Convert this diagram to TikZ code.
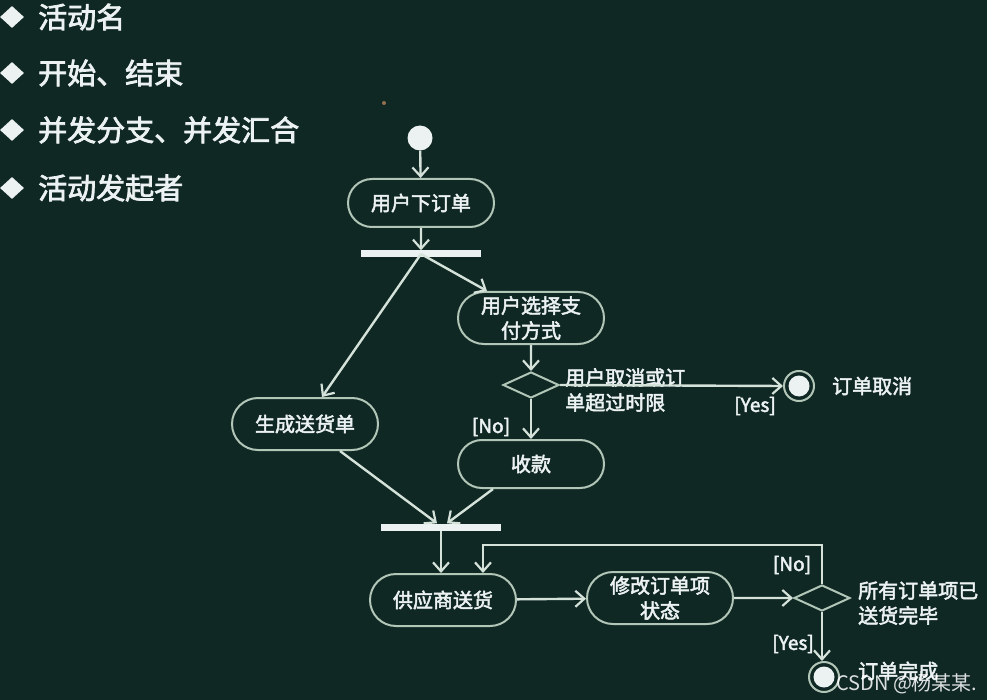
\documentclass[tikz,border=0pt]{standalone}
\usepackage{fontspec}
\usetikzlibrary{arrows.meta,shapes.misc,shapes.geometric,calc}
\newfontfamily\cjk[FakeBold=2.5]{Noto Sans CJK SC}
\newfontfamily\cjkthin{Noto Sans CJK SC}
\definecolor{bgc}{RGB}{15,40,36}
\definecolor{linec}{RGB}{212,226,218}
\definecolor{boxc}{RGB}{178,198,184}
\definecolor{txtc}{RGB}{236,242,242}
\definecolor{dotc}{RGB}{150,110,80}
\tikzset{
  arr/.style={draw=linec,line width=2.4pt,-{Straight Barb[length=9pt,width=16pt,line width=2.2pt]}},
  conn/.style={draw=linec,line width=2.4pt},
  act/.style={rounded rectangle,draw=boxc,line width=2pt,minimum width=150pt,minimum height=48pt,
    text=txtc,font=\cjk\fontsize{20}{25}\selectfont,align=center,inner sep=2pt},
  bar/.style={rectangle,fill=txtc,minimum width=120pt,minimum height=7pt,inner sep=0pt},
  dec/.style={diamond,draw=boxc,line width=2pt,minimum width=56pt,minimum height=26pt,inner sep=0pt,aspect=2},
  startc/.style={circle,fill=txtc,minimum size=25pt,inner sep=0pt},
  endc/.style={circle,draw=boxc,line width=2pt,minimum size=30pt,inner sep=0pt,
    path picture={\fill[txtc] (path picture bounding box.center) circle (10.5pt);}},
  lbl/.style={text=txtc,font=\cjk\fontsize{20}{25}\selectfont,align=left,inner sep=0pt},
  guard/.style={text=txtc,font=\cjk\fontsize{19}{22}\selectfont,inner sep=0pt},
  bul/.style={diamond,fill=txtc,minimum width=24pt,minimum height=22pt,inner sep=0pt},
  bultxt/.style={text=txtc,font=\cjk\fontsize{29}{34}\selectfont,anchor=west,inner sep=0pt}
}
\begin{document}
\begin{tikzpicture}[x=1pt,y=-1pt]
\fill[bgc] (0,0) rectangle (987,700);
\useasboundingbox (0,0) rectangle (987,700);
% bullets
\node[bul] (b1) at (12,17) {};
\node[bultxt] (t1) at (38,17) {活动名};
\node[bul] (b2) at (12,73) {};
\node[bultxt] (t2) at (38,73) {开始、结束};
\node[bul] (b3) at (12,130) {};
\node[bultxt] (t3) at (38,130) {并发分支、并发汇合};
\node[bul] (b4) at (12,188) {};
\node[bultxt] (t4) at (38,188) {活动发起者};
% stray dot
\fill[dotc] (384,103) circle (2pt);
% nodes
\node[startc] (start) at (420,138) {};
\node[act] (order) at (421,203) {用户下订单};
\node[bar] (fork) at (421,254) {};
\node[act,minimum height=52pt] (pay) at (531,318) {用户选择支\\付方式};
\node[dec] (d1) at (531,385) {};
\node[endc] (cancel) at (799,386) {};
\node[act,minimum height=52pt] (gen) at (305,424) {生成送货单};
\node[act] (recv) at (531,464) {收款};
\node[bar] (join) at (441,527) {};
\node[act,minimum height=52pt] (ship) at (443,600) {供应商送货};
\node[act,minimum height=52pt] (modify) at (660,598) {修改订单项\\状态};
\node[dec] (d2) at (822,598) {};
\node[endc] (done) at (824,677) {};
% labels
\node[lbl,anchor=west] (l1) at (565,390) {用户取消或订\\单超过时限};
\node[lbl,anchor=west] (l2) at (832,386) {订单取消};
\node[guard] (g1) at (755,406) {[Yes]};
\node[guard] (g2) at (491,427) {[No]};
\node[guard] (g3) at (792,565) {[No]};
\node[lbl,anchor=west] (l3) at (858,603) {所有订单项已\\送货完毕};
\node[guard] (g4) at (793,644) {[Yes]};
\node[lbl,anchor=west] (l4) at (858,671) {订单完成};
\node[text=white,font=\cjkthin\fontsize{20}{22}\selectfont,anchor=west,inner sep=0pt,opacity=0.85] (wm) at (836,684) {CSDN @杨某某.};
% connectors
\draw[arr] (start) -- (order);
\draw[arr] (order) -- (fork);
\draw[arr] (fork.center) -- ([xshift=-44pt]pay.north);
\draw[arr] (fork.center) -- ([xshift=17pt]gen.north);
\draw[arr] (pay) -- (d1);
\draw[arr] (d1.east) -- (cancel.west);
\draw[arr] (d1) -- (recv);
\draw[arr] ([xshift=35pt]gen.south) -- ([xshift=-4pt]join.north);
\draw[arr] ([xshift=-38pt]recv.south) -- ([xshift=6pt]join.north);
\draw[arr] (join.south) -- (join.south |- ship.north);
\draw[arr] (d2.north) -- (d2.north |- 0,545) -- (483,545) -- (483,545 |- ship.north);
\draw[arr] (ship) -- (modify);
\draw[arr] (modify) -- (d2);
\draw[arr] (d2.south) -- (d2.south |- done.north);
\end{tikzpicture}
\end{document}
